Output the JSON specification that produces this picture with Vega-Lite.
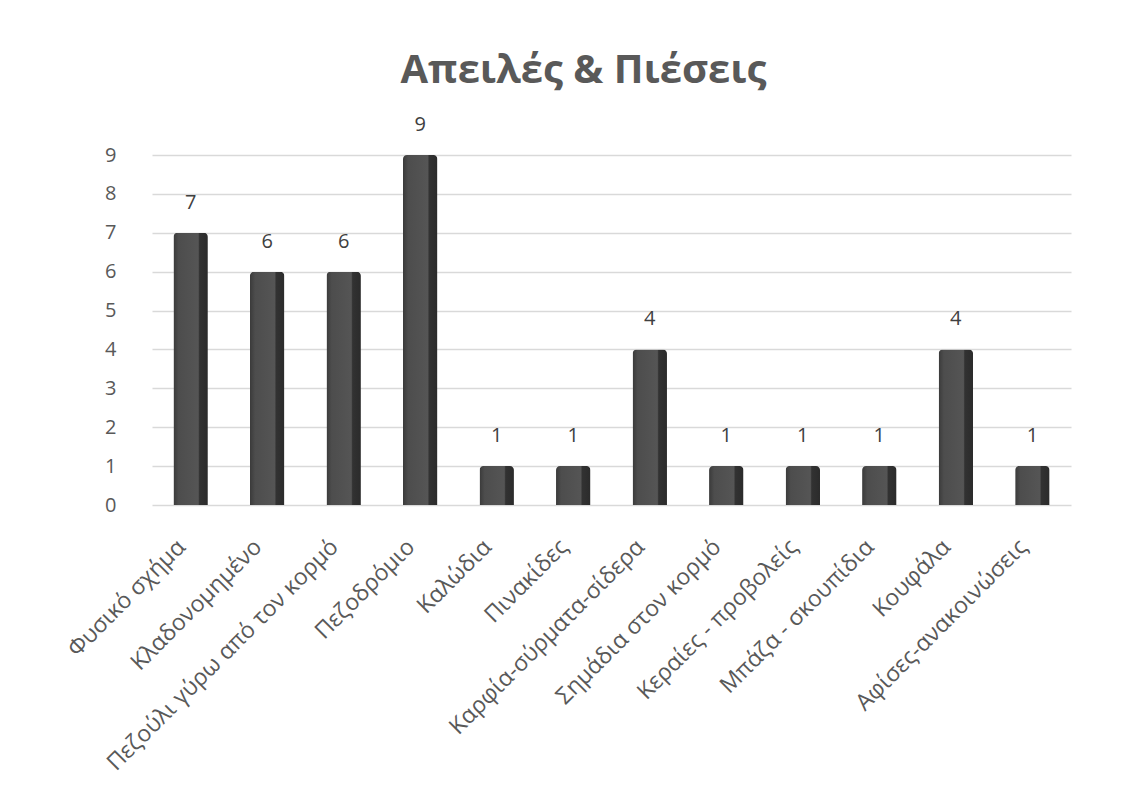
{
  "$schema": "https://vega.github.io/schema/vega-lite/v6.json",
  "autosize": "none",
  "width": 919,
  "height": 350,
  "padding": {"left": 152, "top": 155, "right": 66, "bottom": 291},
  "background": "white",
  "title": {
    "text": "Απειλές & Πιέσεις",
    "font": "Open Sans",
    "fontSize": 40,
    "fontWeight": "bold",
    "color": "#595959",
    "anchor": "middle",
    "offset": 24,
    "dx": -28
  },
  "data": {
    "values": [
      {"category": "Φυσικό σχήμα", "count": 7},
      {"category": "Κλαδονομημένο", "count": 6},
      {"category": "Πεζούλι γύρω από τον κορμό", "count": 6},
      {"category": "Πεζοδρόμιο", "count": 9},
      {"category": "Καλώδια", "count": 1},
      {"category": "Πινακίδες", "count": 1},
      {"category": "Καρφία-σύρματα-σίδερα", "count": 4},
      {"category": "Σημάδια στον κορμό", "count": 1},
      {"category": "Κεραίες - προβολείς", "count": 1},
      {"category": "Μπάζα - σκουπίδια", "count": 1},
      {"category": "Κουφάλα", "count": 4},
      {"category": "Αφίσες-ανακοινώσεις", "count": 1}
    ]
  },
  "encoding": {
    "x": {
      "field": "category",
      "type": "nominal",
      "sort": null,
      "scale": {"paddingInner": 0.55, "paddingOuter": 0.28},
      "axis": {
        "title": null,
        "labelAngle": -45,
        "labelAlign": "right",
        "labelBaseline": "middle",
        "labelFont": "Open Sans",
        "labelFontSize": 23,
        "labelColor": "#595959",
        "labelPadding": 38,
        "labelLimit": 400,
        "labelOffset": -9,
        "ticks": false,
        "domain": false,
        "grid": false
      }
    },
    "y": {
      "field": "count",
      "type": "quantitative",
      "scale": {"domain": [0, 9], "nice": false},
      "axis": {
        "title": null,
        "values": [0, 1, 2, 3, 4, 5, 6, 7, 8, 9],
        "labelFont": "Open Sans",
        "labelFontSize": 20,
        "labelColor": "#595959",
        "labelPadding": 36,
        "ticks": false,
        "domain": false,
        "grid": true,
        "gridColor": "#d9d9d9",
        "gridWidth": 1.5
      }
    }
  },
  "layer": [
    {
      "mark": {
        "type": "bar",
        "cornerRadiusEnd": 4,
        "color": {
          "gradient": "linear",
          "x1": 0, "y1": 0, "x2": 1, "y2": 0,
          "stops": [
            {"offset": 0, "color": "#3a3a3a"},
            {"offset": 0.15, "color": "#4d4d4d"},
            {"offset": 0.72, "color": "#555555"},
            {"offset": 0.76, "color": "#323232"},
            {"offset": 1, "color": "#2b2b2b"}
          ]
        }
      }
    },
    {
      "mark": {
        "type": "text",
        "baseline": "bottom",
        "dy": -20,
        "font": "Open Sans",
        "fontSize": 20,
        "color": "#404040"
      },
      "encoding": {"text": {"field": "count", "type": "quantitative"}}
    }
  ],
  "config": {"view": {"stroke": null}}
}
